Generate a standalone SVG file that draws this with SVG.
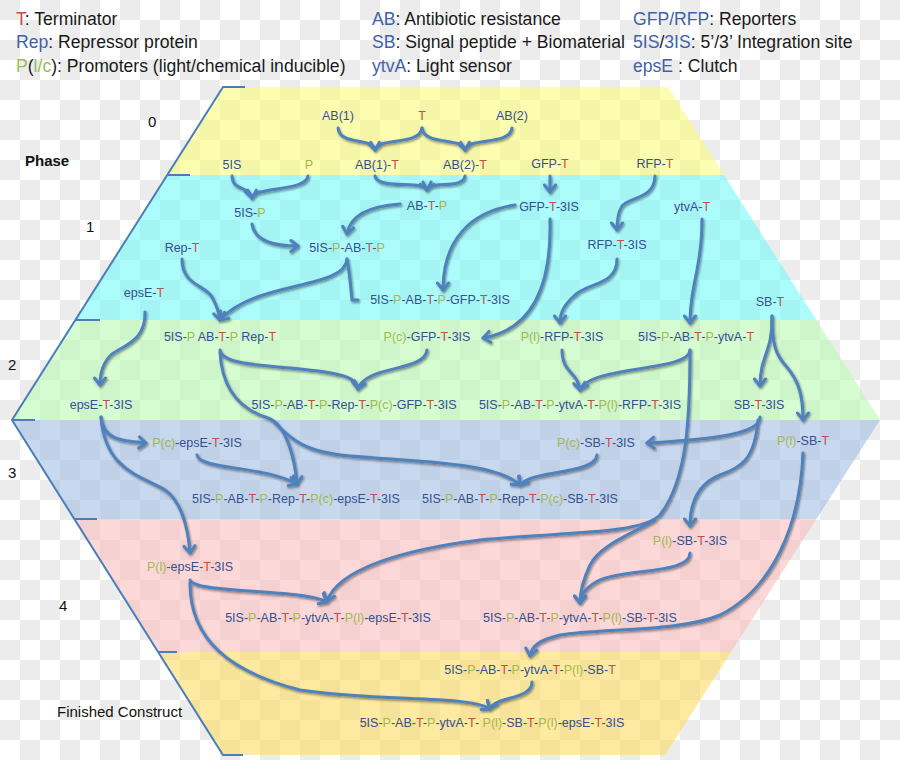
<svg xmlns="http://www.w3.org/2000/svg" width="900" height="760" viewBox="0 0 900 760">
<style>
.lg{font-family:"Liberation Sans",Arial,sans-serif;font-size:17.6px;fill:#1a1a1a}
.lb{fill:#3f62a8}.lr{fill:#c0504d}.lgr{fill:#9bbb59}
.ph{font-family:"Liberation Sans",Arial,sans-serif;font-size:15px;fill:#111}
.nd{font-family:"Liberation Sans",Arial,sans-serif;font-size:12.5px;fill:#34508f;text-anchor:middle}
.r{fill:#c0504d}.g{fill:#a3b84e}
.c{fill:none;stroke:#4f81bd;stroke-width:3;stroke-linecap:round;stroke-linejoin:round}
.a{marker-end:url(#ah)}
.br{fill:none;stroke:#4a7ebb;stroke-width:2}
</style>
<defs>
<pattern id="chk" width="40" height="40" patternUnits="userSpaceOnUse">
<rect width="40" height="40" fill="#ffffff"/>
<rect width="20" height="20" fill="#ececec"/>
<rect x="20" y="20" width="20" height="20" fill="#ececec"/>
</pattern>
<clipPath id="hex"><polygon points="223,87 668,87 880,420 665,755 223,755 12,420"/></clipPath>
<marker id="ah" viewBox="-10 -8 12 16" markerWidth="12" markerHeight="16" refX="0" refY="0" orient="auto" markerUnits="userSpaceOnUse">
<path d="M-7,-5.5 L0,0 L-7,5.5" fill="none" stroke="#4f81bd" stroke-width="3" stroke-linecap="round" stroke-linejoin="round"/>
</marker>
<filter id="sh" x="-10%" y="-10%" width="120%" height="120%"><feDropShadow dx="1" dy="1.5" stdDeviation="0.8" flood-color="#000" flood-opacity="0.45"/></filter>
</defs>
<rect width="900" height="760" fill="url(#chk)"/>
<g id="bands" clip-path="url(#hex)" fill-opacity="0.6">
<rect x="0" y="87" width="900" height="88" fill="#fcfc7b"/>
<rect x="0" y="175" width="900" height="145" fill="#76fafa"/>
<rect x="0" y="320" width="900" height="100" fill="#bbfab4"/>
<rect x="0" y="420" width="900" height="99" fill="#a3bee3"/>
<rect x="0" y="519" width="900" height="133" fill="#fcbebe"/>
<rect x="0" y="652" width="900" height="103" fill="#fddc61"/>
</g>
<g id="phase-bracket">
<polyline class="br" points="245,87 223,87 12,420 223,755 243,755"/>
<path class="br" d="M167,175 H190 M75,320 H100 M12,420 H35 M74,519 H97 M158,652 H177"/>
</g>
<g id="legend" class="lg">
<text x="16" y="25"><tspan class="lr">T</tspan>: Terminator</text>
<text x="16" y="48"><tspan class="lb">Rep</tspan>: Repressor protein</text>
<text x="16" y="72"><tspan class="lgr">P</tspan>(<tspan class="lgr">l/c</tspan>): Promoters (light/chemical inducible)</text>
<text x="372" y="25"><tspan class="lb">AB</tspan>: Antibiotic resistance</text>
<text x="372" y="48"><tspan class="lb">SB</tspan>: Signal peptide + Biomaterial</text>
<text x="372" y="72"><tspan class="lb">ytvA</tspan>: Light sensor</text>
<text x="633" y="25"><tspan class="lb">GFP/RFP</tspan>: Reporters</text>
<text x="633" y="48"><tspan class="lb">5IS</tspan>/<tspan class="lb">3IS</tspan>: 5’/3’ Integration site</text>
<text x="633" y="72"><tspan class="lb">epsE</tspan> : Clutch</text>
</g>
<g id="phase-labels" class="ph">
<text x="148" y="127">0</text>
<text x="25" y="166" font-weight="bold">Phase</text>
<text x="86" y="232">1</text>
<text x="8" y="370">2</text>
<text x="8" y="478">3</text>
<text x="59" y="611">4</text>
<text x="57" y="717">Finished Construct</text>
</g>
<g id="connectors" filter="url(#sh)">
<path class="c a" d="M338,128 C340,146 373,137 375,150"/>
<path class="c a" d="M422,128 C420,146 377,137 375,150"/>
<path class="c a" d="M422,128 C424,146 463,137 465,150"/>
<path class="c a" d="M512,128 C510,146 467,137 465,150"/>
<path class="c a" d="M232,176 C233,192 250,186 252,198"/>
<path class="c a" d="M308,176 C306,192 254,186 252,198"/>
<path class="c a" d="M375,176 C377,190 425,180 427,190"/>
<path class="c a" d="M465,176 C463,190 429,180 427,190"/>
<path class="c a" d="M550,176 L550,192"/>
<path class="c a" d="M655,176 C654,200 630,196 622,206 C618,212 617,220 617,230"/>
<path class="c a" d="M252,224 C255,242 275,246 298,246"/>
<path class="c a" d="M400,204 C370,206 350,215 347,234"/>
<path class="c a" d="M515,205 C470,212 443,240 443,290"/>
<path class="c a" d="M550,219 C552,290 530,330 483,338"/>
<path class="c a" d="M617,259 C617,285 590,282 575,295 C564,305 560,312 560,323"/>
<path class="c a" d="M702,219 C702,250 698,262 697,270 C693,290 690,305 690,323"/>
<path class="c a" d="M347,259 C345,290 255,280 220,320"/>
<path class="c a" d="M182,259 C182,285 205,285 212,297 C217,306 219,312 220,320"/>
<path class="c" d="M347,259 C350,275 351,290 352,300 L358,300"/>
<path class="c a" d="M145,312 C146,340 125,345 112,354 C103,362 100,372 100,385"/>
<path class="c a" d="M772,316 C773,352 760,355 760,386"/>
<path class="c a" d="M772,316 C772,345 776,355 786,366 C800,382 803,398 803,420"/>
<path class="c a" d="M220,350 C222,370 300,364 340,375 C352,378 358,382 358,389"/>
<path class="c a" d="M427,350 C425,372 365,365 358,389"/>
<path class="c a" d="M220,352 C222,392 242,410 268,418 C287,425 295,460 297,484"/>
<path class="c a" d="M275,423 C292,440 305,452 350,456 C420,462 495,462 520,485"/>
<path class="c a" d="M562,350 C562,373 578,372 580,390"/>
<path class="c a" d="M690,350 C690,372 590,365 580,390"/>
<path class="c a" d="M690,350 C690,420 687,480 660,515 C640,535 560,532 480,540 C400,550 338,570 327,601"/>
<path class="c a" d="M101,417 C103,440 122,441 146,443"/>
<path class="c a" d="M101,417 C105,470 140,475 165,490 C180,500 188,525 190,553"/>
<path class="c a" d="M197,455 C200,470 262,465 297,484"/>
<path class="c a" d="M760,417 C760,433 720,439 647,443"/>
<path class="c a" d="M758,420 C755,460 740,468 720,475 C700,483 690,500 690,526"/>
<path class="c a" d="M597,455 C595,475 530,470 520,485"/>
<path class="c a" d="M803,453 C800,530 770,590 720,615 C680,632 600,628 560,635 C540,640 532,645 530,656"/>
<path class="c a" d="M190,580 C195,594 300,588 327,602"/>
<path class="c a" d="M655,520 C630,535 600,545 590,565 C583,580 580,590 580,603"/>
<path class="c a" d="M690,553 C690,575 620,568 596,582 C586,588 580,595 580,603"/>
<path class="c a" d="M190,583 C190,640 230,672 300,690 C380,702 470,695 490,709"/>
<path class="c a" d="M532,682 C532,700 495,696 490,709"/>
</g>
<g id="n-ab1"><text class="nd" x="338" y="120">AB(1)</text></g>
<g id="n-t"><text class="nd" x="422" y="120"><tspan class="r">T</tspan></text></g>
<g id="n-ab2"><text class="nd" x="512" y="120">AB(2)</text></g>
<g id="n-5is"><text class="nd" x="232" y="169">5IS</text></g>
<g id="n-p"><text class="nd" x="309" y="169"><tspan class="g">P</tspan></text></g>
<g id="n-ab1t"><text class="nd" x="377" y="169">AB(1)-<tspan class="r">T</tspan></text></g>
<g id="n-ab2t"><text class="nd" x="465" y="169">AB(2)-<tspan class="r">T</tspan></text></g>
<g id="n-gfpt"><text class="nd" x="550" y="168">GFP-<tspan class="r">T</tspan></text></g>
<g id="n-rfpt"><text class="nd" x="655" y="168">RFP-<tspan class="r">T</tspan></text></g>
<g id="n-5isp"><text class="nd" x="250" y="217">5IS-<tspan class="g">P</tspan></text></g>
<g id="n-abtp"><text class="nd" x="427" y="210">AB-<tspan class="r">T</tspan>-<tspan class="g">P</tspan></text></g>
<g id="n-gfpt3is"><text class="nd" x="549" y="211">GFP-<tspan class="r">T</tspan>-3IS</text></g>
<g id="n-ytvat"><text class="nd" x="692" y="211">ytvA-<tspan class="r">T</tspan></text></g>
<g id="n-rept"><text class="nd" x="182" y="252">Rep-<tspan class="r">T</tspan></text></g>
<g id="n-5ispabtp"><text class="nd" x="347" y="252">5IS-<tspan class="g">P</tspan>-AB-<tspan class="r">T</tspan>-<tspan class="g">P</tspan></text></g>
<g id="n-rfpt3is"><text class="nd" x="617" y="249">RFP-<tspan class="r">T</tspan>-3IS</text></g>
<g id="n-epset"><text class="nd" x="144" y="297">epsE-<tspan class="r">T</tspan></text></g>
<g id="n-gfpconst"><text class="nd" x="440" y="304">5IS-<tspan class="g">P</tspan>-AB-<tspan class="r">T</tspan>-<tspan class="g">P</tspan>-GFP-<tspan class="r">T</tspan>-3IS</text></g>
<g id="n-sbt"><text class="nd" x="770" y="306">SB-<tspan class="r">T</tspan></text></g>
<g id="n-parts"><text class="nd" x="220" y="341">5IS-<tspan class="g">P</tspan> AB-<tspan class="r">T</tspan>-<tspan class="g">P</tspan> Rep-<tspan class="r">T</tspan></text></g>
<g id="n-pcgfp"><text class="nd" x="427" y="341"><tspan class="g">P(c)</tspan>-GFP-<tspan class="r">T</tspan>-3IS</text></g>
<g id="n-plrfp"><text class="nd" x="562" y="341"><tspan class="g">P(l)</tspan>-RFP-<tspan class="r">T</tspan>-3IS</text></g>
<g id="n-ytvaconst"><text class="nd" x="696" y="341">5IS-<tspan class="g">P</tspan>-AB-<tspan class="r">T</tspan>-<tspan class="g">P</tspan>-ytvA-<tspan class="r">T</tspan></text></g>
<g id="n-epset3is"><text class="nd" x="101" y="409">epsE-<tspan class="r">T</tspan>-3IS</text></g>
<g id="n-gfpfull"><text class="nd" x="354" y="409">5IS-<tspan class="g">P</tspan>-AB-<tspan class="r">T</tspan>-<tspan class="g">P</tspan>-Rep-<tspan class="r">T</tspan>-<tspan class="g">P(c)</tspan>-GFP-<tspan class="r">T</tspan>-3IS</text></g>
<g id="n-rfpfull"><text class="nd" x="580" y="409">5IS-<tspan class="g">P</tspan>-AB-<tspan class="r">T</tspan>-<tspan class="g">P</tspan>-ytvA-<tspan class="r">T</tspan>-<tspan class="g">P(l)</tspan>-RFP-<tspan class="r">T</tspan>-3IS</text></g>
<g id="n-sbt3is"><text class="nd" x="759" y="409">SB-<tspan class="r">T</tspan>-3IS</text></g>
<g id="n-pceps"><text class="nd" x="197" y="447"><tspan class="g">P(c)</tspan>-epsE-<tspan class="r">T</tspan>-3IS</text></g>
<g id="n-pcsb"><text class="nd" x="596" y="447"><tspan class="g">P(c)</tspan>-SB-<tspan class="r">T</tspan>-3IS</text></g>
<g id="n-plsbt"><text class="nd" x="803" y="445"><tspan class="g">P(l)</tspan>-SB-<tspan class="r">T</tspan></text></g>
<g id="n-repeps"><text class="nd" x="296" y="503">5IS-<tspan class="g">P</tspan>-AB-<tspan class="r">T</tspan>-<tspan class="g">P</tspan>-Rep-<tspan class="r">T</tspan>-<tspan class="g">P(c)</tspan>-epsE-<tspan class="r">T</tspan>-3IS</text></g>
<g id="n-repsb"><text class="nd" x="520" y="503">5IS-<tspan class="g">P</tspan>-AB-<tspan class="r">T</tspan>-<tspan class="g">P</tspan>-Rep-<tspan class="r">T</tspan>-<tspan class="g">P(c)</tspan>-SB-<tspan class="r">T</tspan>-3IS</text></g>
<g id="n-pleps"><text class="nd" x="190" y="571"><tspan class="g">P(l)</tspan>-epsE-<tspan class="r">T</tspan>-3IS</text></g>
<g id="n-plsb3is"><text class="nd" x="690" y="545"><tspan class="g">P(l)</tspan>-SB-<tspan class="r">T</tspan>-3IS</text></g>
<g id="n-ytvaeps"><text class="nd" x="328" y="622">5IS-<tspan class="g">P</tspan>-AB-<tspan class="r">T</tspan>-<tspan class="g">P</tspan>-ytvA-<tspan class="r">T</tspan>-<tspan class="g">P(l)</tspan>-epsE-<tspan class="r">T</tspan>-3IS</text></g>
<g id="n-ytvasb3is"><text class="nd" x="580" y="622">5IS-<tspan class="g">P</tspan>-AB-<tspan class="r">T</tspan>-<tspan class="g">P</tspan>-ytvA-<tspan class="r">T</tspan>-<tspan class="g">P(l)</tspan>-SB-<tspan class="r">T</tspan>-3IS</text></g>
<g id="n-ytvasbt"><text class="nd" x="530" y="674">5IS-<tspan class="g">P</tspan>-AB-<tspan class="r">T</tspan>-<tspan class="g">P</tspan>-ytvA-<tspan class="r">T</tspan>-<tspan class="g">P(l)</tspan>-SB-<tspan class="r">T</tspan></text></g>
<g id="n-final"><text class="nd" x="492" y="727">5IS-<tspan class="g">P</tspan>-AB-<tspan class="r">T</tspan>-<tspan class="g">P</tspan>-ytvA-<tspan class="r">T</tspan>- <tspan class="g">P(l)</tspan>-SB-<tspan class="r">T</tspan>-<tspan class="g">P(l)</tspan>-epsE-<tspan class="r">T</tspan>-3IS</text></g>
</svg>
